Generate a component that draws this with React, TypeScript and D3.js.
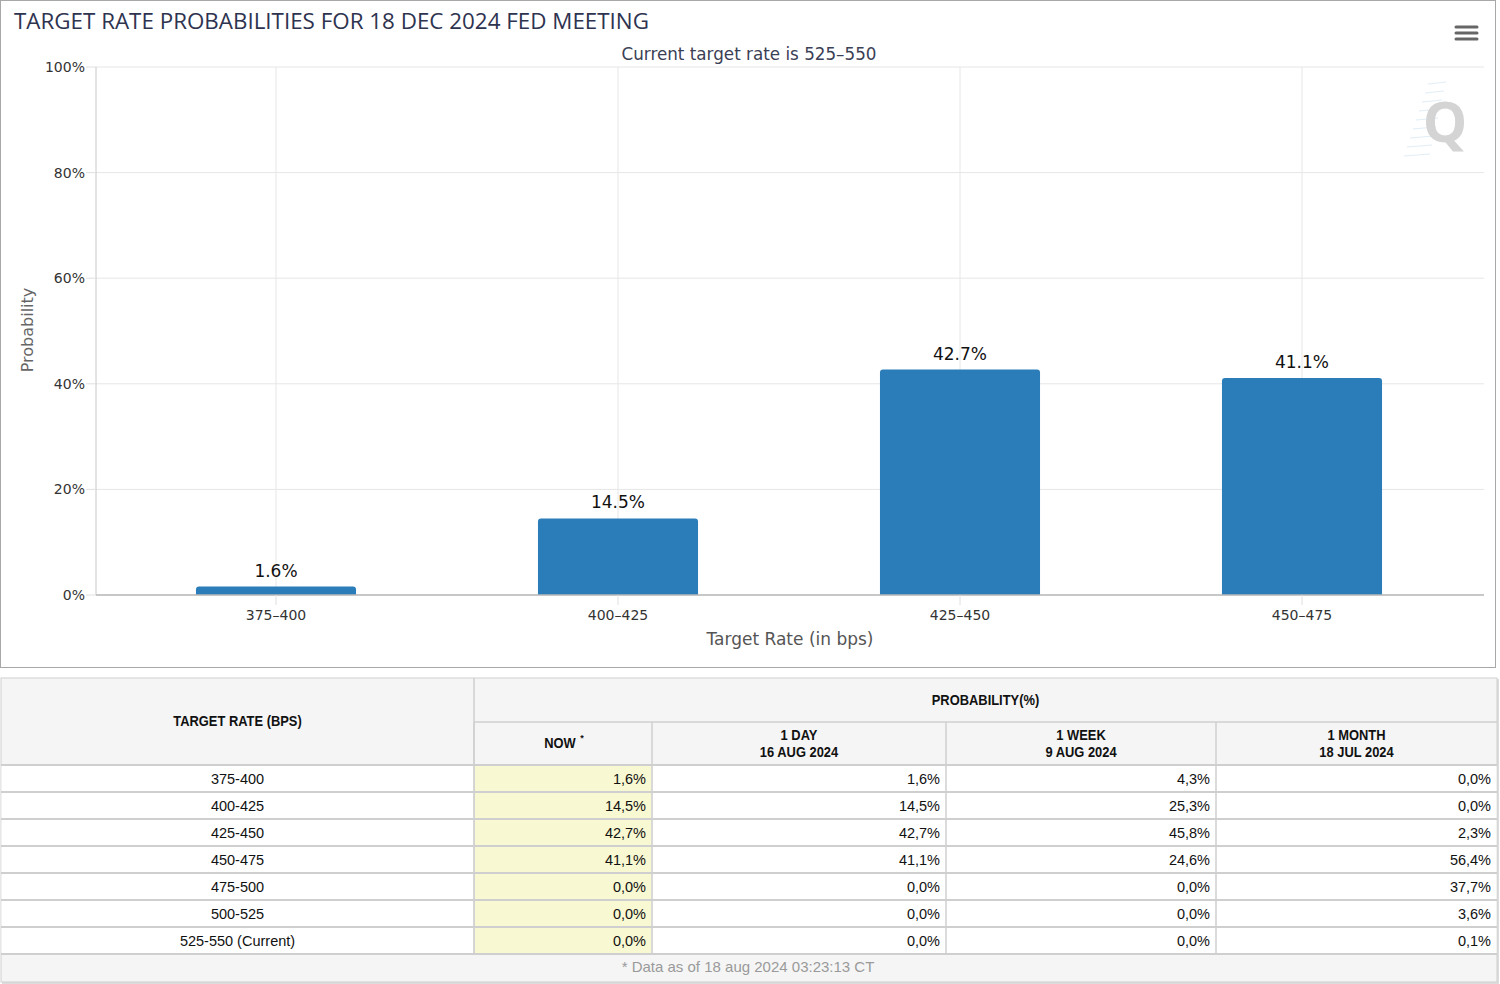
import React from "react"
import * as d3 from "d3"

// Chart: probability of each target-rate range at the 18 Dec 2024 meeting
const CHART_RATES = ["375–400", "400–425", "425–450", "450–475"]
const CHART_PROB = [1.6, 14.5, 42.7, 41.1]
const Y_TICKS = [0, 20, 40, 60, 80, 100]

// Table: probabilities now and at earlier snapshots
const TABLE_RATES = ["375-400", "400-425", "425-450", "450-475", "475-500", "500-525", "525-550 (Current)"]
const NOW_PROB = [1.6, 14.5, 42.7, 41.1, 0.0, 0.0, 0.0]
const DAY_PROB = [1.6, 14.5, 42.7, 41.1, 0.0, 0.0, 0.0]
const WEEK_PROB = [4.3, 25.3, 45.8, 24.6, 0.0, 0.0, 0.0]
const MONTH_PROB = [0.0, 0.0, 2.3, 56.4, 37.7, 3.6, 0.1]
const COLUMN_HEADS = [
  ["1 DAY", "16 AUG 2024"],
  ["1 WEEK", "9 AUG 2024"],
  ["1 MONTH", "18 JUL 2024"],
]

const W = 1500
const H = 984
const CHART_FONT = "'DejaVu Sans', 'Open Sans', sans-serif"
const TABLE_FONT = "'Liberation Sans', Arial, sans-serif"
const BAR_COLOR = "#2a7db8"

const plot = { left: 96, right: 1484, top: 67, bottom: 595 }

// table geometry
const colX = [1, 474, 652, 946, 1216, 1497]
const tableTop = 678
const headSplit = 722
const headBottom = 765
const ROW_H = 27

const fmtComma = (v: number) => v.toFixed(1).replace(".", ",") + "%"

// bold header text, a little condensed
function HeadText({ x, y, children }: { x: number; y: number; children: React.ReactNode }) {
  return (
    <text
      transform={`translate(${x},${y}) scale(0.89,1)`}
      fontSize={14.5}
      fontWeight="bold"
      fill="#111"
      textAnchor="middle"
    >
      {children}
    </text>
  )
}

function BarChart() {
  const y = d3.scaleLinear().domain([0, 100]).range([plot.bottom, plot.top])
  const x = d3
    .scaleBand<string>()
    .domain(CHART_RATES)
    .range([105, 1473])
    .paddingInner(0.532)
    .paddingOuter(0.266)
  const center = (c: string) => (x(c) ?? 0) + x.bandwidth() / 2

  return (
    <g>
      <rect x={0.5} y={0.5} width={1495} height={667} fill="#fff" stroke="#a8a8a8" />

      <text x={14} y={29} fontSize={21} fill="#2e3350" fontFamily="'Open Sans', sans-serif" textLength={635} lengthAdjust="spacingAndGlyphs">
        TARGET RATE PROBABILITIES FOR 18 DEC 2024 FED MEETING
      </text>
      <text x={749} y={60} fontSize={17} fill="#3a4055" textAnchor="middle" fontFamily={CHART_FONT} textLength={255} lengthAdjust="spacingAndGlyphs">
        Current target rate is 525–550
      </text>

      {/* menu button */}
      {[27, 33, 39].map(yy => (
        <line key={yy} x1={1456} x2={1477} y1={yy} y2={yy} stroke="#666" strokeWidth={3} strokeLinecap="round" />
      ))}

      {/* watermark */}
      <g>
        {d3.range(9).map(i => (
          <line
            key={i}
            x1={1404 + i * 3}
            x2={1430 + i * 2}
            y1={156 - i * 9}
            y2={154 - i * 9}
            stroke="#cfe3f2"
            strokeWidth={1}
            opacity={0.6}
          />
        ))}
        <text x={1445} y={142} fontSize={56} fontWeight="bold" fill="#d4d4d4" textAnchor="middle" fontFamily="'Open Sans', Arial, sans-serif">
          Q
        </text>
      </g>

      {/* grid */}
      {Y_TICKS.map(t => (
        <line key={t} x1={plot.left} x2={plot.right} y1={y(t)} y2={y(t)} stroke="#e6e6e6" />
      ))}
      {CHART_RATES.map(c => (
        <line key={c} x1={center(c)} x2={center(c)} y1={plot.top} y2={plot.bottom} stroke="#e6e6e6" />
      ))}

      {/* y axis */}
      <line x1={plot.left} x2={plot.left} y1={plot.top} y2={plot.bottom} stroke="#c8c8c8" />
      {Y_TICKS.map(t => (
        <g key={t}>
          <line x1={plot.left - 10} x2={plot.left} y1={y(t)} y2={y(t)} stroke="#e0e0e0" />
          <text x={85} y={y(t) + 5} fontSize={14} fill="#333" textAnchor="end" fontFamily={CHART_FONT}>
            {t}%
          </text>
        </g>
      ))}
      <text
        transform={`translate(33, 330) rotate(-90)`}
        fontSize={16}
        fill="#666"
        textAnchor="middle"
        fontFamily={CHART_FONT}
      >
        Probability
      </text>

      {/* bars */}
      {CHART_RATES.map((c, i) => {
        const x0 = x(c) ?? 0
        const top = y(CHART_PROB[i])
        const h = plot.bottom - top
        const r = Math.min(3, h)
        const bw = x.bandwidth()
        const path = `M${x0},${plot.bottom} V${top + r} Q${x0},${top} ${x0 + r},${top} H${x0 + bw - r} Q${x0 + bw},${top} ${x0 + bw},${top + r} V${plot.bottom} Z`
        return (
          <g key={c}>
            <path d={path} fill={BAR_COLOR} />
            <text x={center(c)} y={top - 10} fontSize={17} fill="#111" textAnchor="middle" fontFamily={CHART_FONT}>
              {CHART_PROB[i].toFixed(1)}%
            </text>
          </g>
        )
      })}

      {/* x axis */}
      <line x1={plot.left} x2={plot.right} y1={plot.bottom} y2={plot.bottom} stroke="#b8b8b8" strokeWidth={1.5} />
      {CHART_RATES.map(c => (
        <g key={c}>
          <line x1={center(c)} x2={center(c)} y1={plot.bottom} y2={plot.bottom + 10} stroke="#e0e0e0" />
          <text x={center(c)} y={620} fontSize={14} fill="#333" textAnchor="middle" fontFamily={CHART_FONT}>
            {c}
          </text>
        </g>
      ))}
      <text x={790} y={645} fontSize={17} fill="#555" textAnchor="middle" fontFamily={CHART_FONT}>
        Target Rate (in bps)
      </text>
    </g>
  )
}

function ProbTable() {
  const rowY = (i: number) => headBottom + i * ROW_H
  const tableBottom = rowY(TABLE_RATES.length)
  const footBottom = tableBottom + 28
  const columns = [NOW_PROB, DAY_PROB, WEEK_PROB, MONTH_PROB]
  const border = "#cfcfcf"

  return (
    <g fontFamily={TABLE_FONT}>
      {/* shadow + background */}
      <rect x={2} y={tableTop + 1} width={colX[5] - colX[0] + 1} height={footBottom - tableTop + 1} fill="#dcdcdc" />
      <rect x={colX[0]} y={tableTop} width={colX[5] - colX[0]} height={footBottom - tableTop} fill="#f5f5f5" stroke={border} />

      {/* header */}
      <line x1={colX[1]} x2={colX[1]} y1={tableTop} y2={tableBottom} stroke={border} strokeWidth={1.5} />
      <line x1={colX[1]} x2={colX[5]} y1={headSplit} y2={headSplit} stroke={border} strokeWidth={1.5} />
      <HeadText x={(colX[0] + colX[1]) / 2} y={726}>TARGET RATE (BPS)</HeadText>
      <HeadText x={(colX[1] + colX[5]) / 2} y={705}>PROBABILITY(%)</HeadText>
      <HeadText x={(colX[1] + colX[2]) / 2 - 3} y={748}>NOW</HeadText>
      <text x={(colX[1] + colX[2]) / 2 + 19} y={741} fontSize={9} fontWeight="bold" fill="#111" textAnchor="middle">
        *
      </text>
      {COLUMN_HEADS.map(([a, b], i) => {
        const cx = (colX[i + 2] + colX[i + 3]) / 2
        return (
          <g key={a}>
            <HeadText x={cx} y={740}>{a}</HeadText>
            <HeadText x={cx} y={757}>{b}</HeadText>
          </g>
        )
      })}

      {/* rows */}
      {TABLE_RATES.map((r, i) => {
        const y0 = rowY(i)
        const ty = y0 + 19
        return (
          <g key={r}>
            <rect x={colX[0] + 0.5} y={y0} width={colX[1] - colX[0] - 1} height={ROW_H} fill="#fff" />
            <rect x={colX[1] + 0.75} y={y0} width={colX[2] - colX[1] - 1.5} height={ROW_H} fill="#f8f8d2" />
            <rect x={colX[2] + 0.75} y={y0} width={colX[5] - colX[2] - 1.25} height={ROW_H} fill="#fff" />
            <text x={(colX[0] + colX[1]) / 2} y={ty} fontSize={14.5} fill="#111" textAnchor="middle">
              {r}
            </text>
            {columns.map((col, k) => (
              <text key={k} x={colX[k + 2] - 6} y={ty} fontSize={14.5} fill="#111" textAnchor="end">
                {fmtComma(col[i])}
              </text>
            ))}
          </g>
        )
      })}
      {d3.range(TABLE_RATES.length + 1).map(i => (
        <line key={i} x1={colX[0]} x2={colX[5]} y1={rowY(i)} y2={rowY(i)} stroke={border} strokeWidth={2} />
      ))}
      {[1, 2, 3, 4].map(k => (
        <line key={k} x1={colX[k]} x2={colX[k]} y1={headSplit} y2={tableBottom} stroke={border} strokeWidth={1.5} />
      ))}

      {/* footer */}
      <text x={748} y={972} fontSize={15} fill="#9a9a9a" textAnchor="middle">
        * Data as of 18 aug 2024 03:23:13 CT
      </text>
    </g>
  )
}

export default function App() {
  return (
    <svg width={W} height={H} style={{ position: "absolute", left: 0, top: 0, background: "#fff" }}>
      <BarChart />
      <ProbTable />
    </svg>
  )
}
